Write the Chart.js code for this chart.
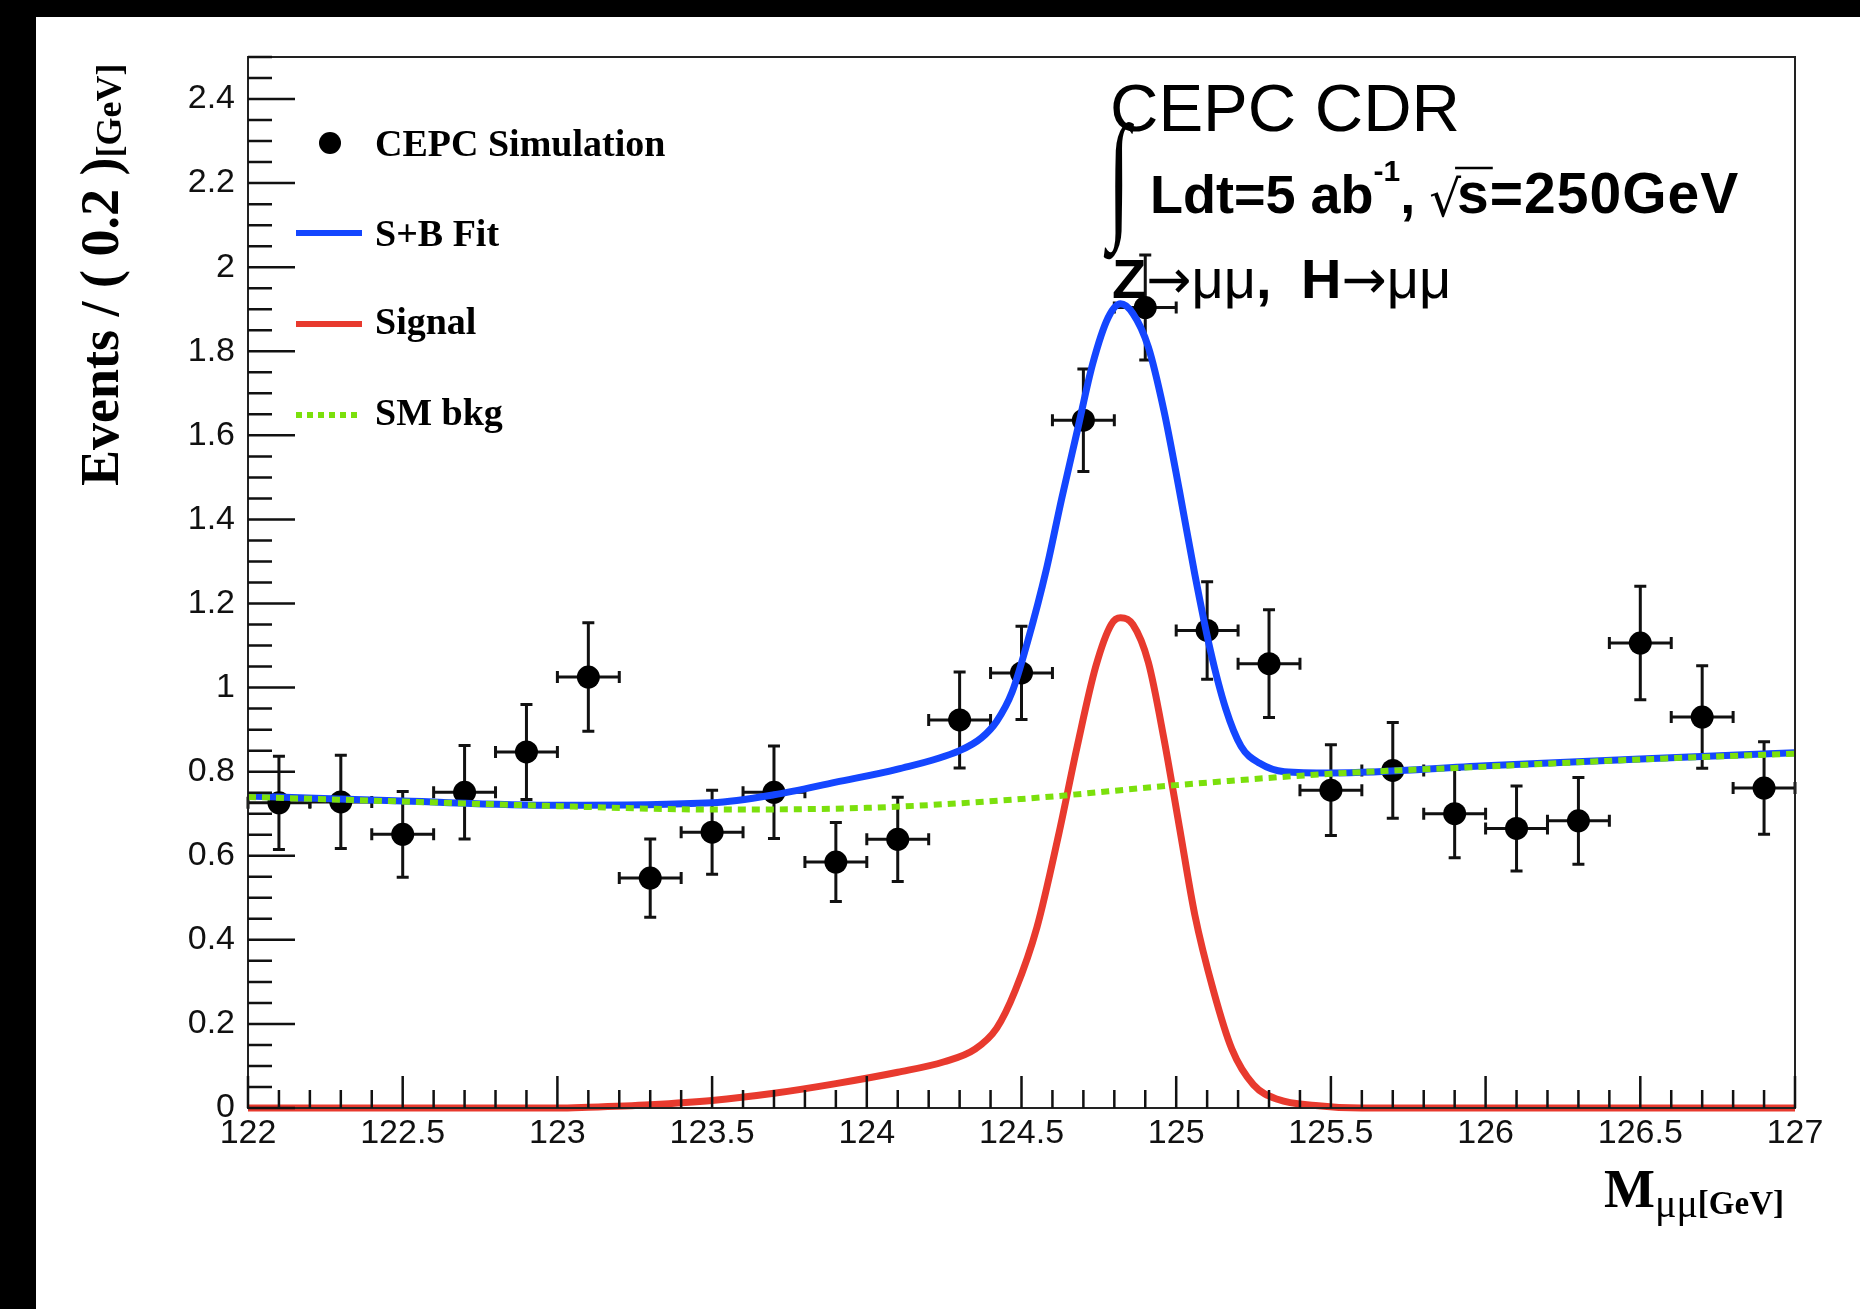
<!DOCTYPE html>
<html>
<head>
<meta charset="utf-8">
<title>CEPC H→μμ fit</title>
<script src="https://cdn.jsdelivr.net/npm/chart.js@4.4.1/dist/chart.umd.min.js"></script>
<style>
  html, body { margin: 0; padding: 0; background: #000; }
  #wrap { width: 1860px; height: 1309px; position: relative; }
</style>
</head>
<body>
<div id="wrap"><canvas id="fit"></canvas></div>
<script>
// simulated events per 0.2 GeV bin
const binCenters = [122.1, 122.3, 122.5, 122.7, 122.9, 123.1, 123.3, 123.5, 123.7, 123.9,
                    124.1, 124.3, 124.5, 124.7, 124.9, 125.1, 125.3, 125.5, 125.7, 125.9,
                    126.1, 126.3, 126.5, 126.7, 126.9];
const eventCounts = [0.726, 0.728, 0.651, 0.751, 0.847, 1.025, 0.547, 0.656, 0.751, 0.585,
                     0.639, 0.923, 1.035, 1.636, 1.904, 1.136, 1.057, 0.756, 0.803, 0.700,
                     0.665, 0.683, 1.106, 0.930, 0.761];
const eventErrors = [0.111, 0.111, 0.102, 0.111, 0.113, 0.129, 0.093, 0.100, 0.110, 0.094,
                     0.100, 0.114, 0.111, 0.122, 0.125, 0.116, 0.128, 0.108, 0.114, 0.105,
                     0.101, 0.103, 0.135, 0.122, 0.110];
const binHalfWidth = 0.1;

// S+B fit curve
const fitMass   = [122.0, 122.5, 123.0, 123.5, 123.7, 123.9, 124.1, 124.3, 124.37, 124.42,
                   124.47, 124.52, 124.58, 124.63, 124.68, 124.73, 124.78, 124.82, 124.86, 124.91,
                   124.96, 125.01, 125.06, 125.11, 125.16, 125.21, 125.27, 125.35, 125.5, 126.0,
                   126.5, 127.0];
const fitValues = [0.742, 0.730, 0.720, 0.726, 0.745, 0.775, 0.806, 0.850, 0.880, 0.920,
                   0.990, 1.110, 1.280, 1.450, 1.610, 1.770, 1.880, 1.913, 1.890, 1.810,
                   1.660, 1.470, 1.270, 1.090, 0.950, 0.860, 0.820, 0.800, 0.797, 0.814,
                   0.830, 0.845];

// signal component
const sigMass   = [122.0, 123.0, 123.1, 123.3, 123.5, 123.7, 123.9, 124.1, 124.25, 124.35,
                   124.42, 124.48, 124.55, 124.62, 124.68, 124.74, 124.79, 124.82, 124.86, 124.91,
                   124.96, 125.01, 125.06, 125.12, 125.18, 125.25, 125.33, 125.45, 125.6, 127.0];
const sigValues = [0, 0, 0.002, 0.008, 0.018, 0.035, 0.058, 0.085, 0.110, 0.140,
                   0.190, 0.280, 0.430, 0.650, 0.860, 1.050, 1.150, 1.166, 1.150, 1.060,
                   0.880, 0.670, 0.460, 0.280, 0.140, 0.055, 0.020, 0.006, 0, 0];

// SM background component
const bkgMass   = [122.0, 122.5, 123.0, 123.5, 124.0, 124.5, 125.0, 125.5, 126.0, 126.5, 127.0];
const bkgValues = [0.740, 0.729, 0.718, 0.710, 0.714, 0.735, 0.768, 0.795, 0.812, 0.829, 0.843];

const xTickLabels = ['122', '122.5', '123', '123.5', '124', '124.5', '125', '125.5', '126', '126.5', '127'];
const yTickLabels = ['0', '0.2', '0.4', '0.6', '0.8', '1', '1.2', '1.4', '1.6', '1.8', '2', '2.2', '2.4'];

const BLUE = '#1446ff';
const RED = '#e83a2e';
const GREEN = '#7be00c';

const toPoints = (xs, ys) => xs.map((v, i) => ({ x: v, y: ys[i] }));

const pageBackground = {
    id: 'pageBackground',
    beforeDraw(chart) {
        const ctx = chart.ctx;
        ctx.save();
        ctx.fillStyle = '#000';
        ctx.fillRect(0, 0, chart.width, chart.height);
        ctx.fillStyle = '#fff';
        ctx.fillRect(36, 17, chart.width - 36, chart.height - 17);
        ctx.restore();
    }
};

const errorBars = {
    id: 'errorBars',
    beforeDatasetsDraw(chart) {
        const { ctx, scales: { x, y } } = chart;
        ctx.save();
        ctx.strokeStyle = '#111';
        ctx.lineWidth = 3;
        binCenters.forEach((m, i) => {
            const px = x.getPixelForValue(m);
            const py = y.getPixelForValue(eventCounts[i]);
            const x0 = x.getPixelForValue(m - binHalfWidth);
            const x1 = x.getPixelForValue(m + binHalfWidth);
            const y0 = y.getPixelForValue(eventCounts[i] - eventErrors[i]);
            const y1 = y.getPixelForValue(eventCounts[i] + eventErrors[i]);
            ctx.beginPath();
            ctx.moveTo(x0, py); ctx.lineTo(x1, py);
            ctx.moveTo(px, y0); ctx.lineTo(px, y1);
            ctx.moveTo(x0, py - 6); ctx.lineTo(x0, py + 6);
            ctx.moveTo(x1, py - 6); ctx.lineTo(x1, py + 6);
            ctx.moveTo(px - 6, y0); ctx.lineTo(px + 6, y0);
            ctx.moveTo(px - 6, y1); ctx.lineTo(px + 6, y1);
            ctx.stroke();
        });
        ctx.restore();
    }
};

const axisFrame = {
    id: 'axisFrame',
    afterDatasetsDraw(chart) {
        const { ctx, chartArea: a, scales: { x, y } } = chart;
        ctx.save();
        ctx.strokeStyle = '#222';
        ctx.lineWidth = 2;
        ctx.strokeRect(a.left, a.top, a.right - a.left, a.bottom - a.top);
        ctx.lineWidth = 2.5;
        ctx.strokeStyle = '#111';
        ctx.beginPath();
        // y ticks: major 0.2, minor 0.05
        for (let k = 0; k <= 50; k++) {
            const py = y.getPixelForValue(k * 0.05);
            const len = k % 4 === 0 ? 47 : 24;
            ctx.moveTo(a.left, py); ctx.lineTo(a.left + len, py);
        }
        // x ticks: major 0.5, minor 0.1
        for (let k = 0; k <= 50; k++) {
            const px = x.getPixelForValue(122 + k * 0.1);
            const len = k % 5 === 0 ? 32 : 18;
            ctx.moveTo(px, a.bottom); ctx.lineTo(px, a.bottom - len);
        }
        ctx.stroke();
        ctx.restore();
    }
};

// draws runs of text with differing fonts, returns end x
function drawRun(ctx, parts, x, y) {
    parts.forEach(p => {
        ctx.font = p.font;
        ctx.letterSpacing = p.spacing || '0px';
        ctx.fillText(p.text, x, y + (p.dy || 0));
        x += ctx.measureText(p.text).width + (p.gap || 0);
    });
    ctx.letterSpacing = '0px';
    return x;
}

const annotations = {
    id: 'annotations',
    afterDraw(chart) {
        const ctx = chart.ctx;
        ctx.save();
        ctx.fillStyle = '#000';
        ctx.textBaseline = 'alphabetic';
        ctx.textAlign = 'left';

        // legend
        ctx.beginPath();
        ctx.arc(330, 143, 11, 0, Math.PI * 2);
        ctx.fill();
        ctx.lineWidth = 6;
        ctx.strokeStyle = BLUE;
        ctx.beginPath(); ctx.moveTo(296, 233); ctx.lineTo(362, 233); ctx.stroke();
        ctx.strokeStyle = RED;
        ctx.beginPath(); ctx.moveTo(296, 324); ctx.lineTo(362, 324); ctx.stroke();
        ctx.strokeStyle = GREEN;
        ctx.setLineDash([6, 5]);
        ctx.beginPath(); ctx.moveTo(296, 415); ctx.lineTo(362, 415); ctx.stroke();
        ctx.setLineDash([]);
        ctx.font = 'bold 38px "Liberation Serif"';
        ctx.fillText('CEPC Simulation', 375, 156);
        ctx.fillText('S+B Fit', 375, 246);
        ctx.fillText('Signal', 375, 334);
        ctx.fillText('SM bkg', 375, 425);

        // top-right labels
        ctx.font = '67px "Liberation Sans"';
        ctx.fillText('CEPC CDR', 1110, 131);

        ctx.save();
        ctx.translate(1108, 222);
        ctx.scale(1, 1.75);
        ctx.font = '80px "Liberation Serif"';
        ctx.fillText('\u222B', 0, 0);
        ctx.restore();

        const bold = 'bold 54px "Liberation Sans"';
        const cx = drawRun(ctx, [
            { text: 'Ldt=5 ab', font: bold },
            { text: '-1', font: 'bold 30px "Liberation Sans"', dy: -32 },
            { text: ',', font: bold, gap: 14 }
        ], 1150, 213);
        ctx.font = '50px "DejaVu Sans"';
        ctx.fillText('\u221A', cx, 216);
        const sx = cx + ctx.measureText('\u221A').width - 4;
        const sFont = 'bold 57px "Liberation Sans"';
        drawRun(ctx, [{ text: 's=250GeV', font: sFont, spacing: '1px' }], sx, 213);
        ctx.font = sFont;
        ctx.lineWidth = 2.5;
        ctx.strokeStyle = '#000';
        ctx.beginPath();
        ctx.moveTo(sx - 2, 168); ctx.lineTo(sx + ctx.measureText('s').width + 4, 168);
        ctx.stroke();

        drawRun(ctx, [
            { text: 'Z', font: 'bold 56px "Liberation Sans"' },
            { text: '\u2192', font: '54px "DejaVu Sans"' },
            { text: '\u03BC\u03BC', font: '56px "Liberation Sans"' },
            { text: ', ', font: 'bold 56px "Liberation Sans"', gap: 14 },
            { text: 'H', font: 'bold 56px "Liberation Sans"' },
            { text: '\u2192', font: '54px "DejaVu Sans"' },
            { text: '\u03BC\u03BC', font: '56px "Liberation Sans"' }
        ], 1112, 298);

        // x axis title
        const tx = drawRun(ctx, [{ text: 'M', font: 'bold 54px "Liberation Serif"' }], 1604, 1207);
        drawRun(ctx, [
            { text: '\u03BC\u03BC', font: '40px "Liberation Serif"' },
            { text: '[GeV]', font: 'bold 33px "Liberation Serif"', dy: -3 }
        ], tx, 1217);

        // y axis title
        ctx.save();
        ctx.translate(118, 486);
        ctx.rotate(-Math.PI / 2);
        drawRun(ctx, [
            { text: 'Events / ( 0.2 )', font: 'bold 54px "Liberation Serif"' },
            { text: '[GeV]', font: 'bold 36px "Liberation Serif"', dy: 3 }
        ], 0, 0);
        ctx.restore();

        ctx.restore();
    }
};

new Chart(document.getElementById('fit'), {
    type: 'scatter',
    data: {
        datasets: [
            {
                label: 'SM bkg',
                data: toPoints(bkgMass, bkgValues),
                showLine: true,
                borderColor: GREEN,
                borderWidth: 6,
                borderDash: [8, 6],
                pointRadius: 0,
                cubicInterpolationMode: 'monotone',
                clip: false,
                order: 1
            },
            {
                label: 'S+B Fit',
                data: toPoints(fitMass, fitValues),
                showLine: true,
                borderColor: BLUE,
                borderWidth: 7,
                pointRadius: 0,
                cubicInterpolationMode: 'monotone',
                clip: false,
                order: 2
            },
            {
                label: 'Signal',
                data: toPoints(sigMass, sigValues),
                showLine: true,
                borderColor: RED,
                borderWidth: 7,
                pointRadius: 0,
                cubicInterpolationMode: 'monotone',
                clip: false,
                order: 3
            },
            {
                label: 'CEPC Simulation',
                data: toPoints(binCenters, eventCounts),
                showLine: false,
                pointRadius: 11.5,
                pointBackgroundColor: '#000',
                pointBorderWidth: 0,
                order: 4
            }
        ]
    },
    options: {
        responsive: true,
        maintainAspectRatio: false,
        animation: false,
        events: [],
        layout: { padding: { top: 57, right: 65, left: 0, bottom: 0 } },
        plugins: { legend: { display: false }, tooltip: { enabled: false } },
        scales: {
            x: {
                type: 'linear',
                min: 122,
                max: 127,
                grid: { display: false, drawTicks: false },
                border: { display: false },
                afterBuildTicks: s => { s.ticks = xTickLabels.map(l => ({ value: parseFloat(l) })); },
                afterFit: s => { s.height = 201; },
                ticks: {
                    autoSkip: false,
                    maxRotation: 0,
                    padding: 5,
                    color: '#111',
                    font: { family: 'Liberation Sans', size: 34 },
                    callback: (v, i) => xTickLabels[i]
                }
            },
            y: {
                type: 'linear',
                min: 0,
                max: 2.5,
                grid: { display: false, drawTicks: false },
                border: { display: false },
                afterBuildTicks: s => { s.ticks = yTickLabels.map(l => ({ value: parseFloat(l) })); },
                afterFit: s => { s.width = 248; },
                ticks: {
                    padding: 13,
                    color: '#111',
                    font: { family: 'Liberation Sans', size: 34 },
                    callback: (v, i) => yTickLabels[i]
                }
            }
        }
    },
    plugins: [pageBackground, errorBars, axisFrame, annotations]
});
</script>
</body>
</html>
